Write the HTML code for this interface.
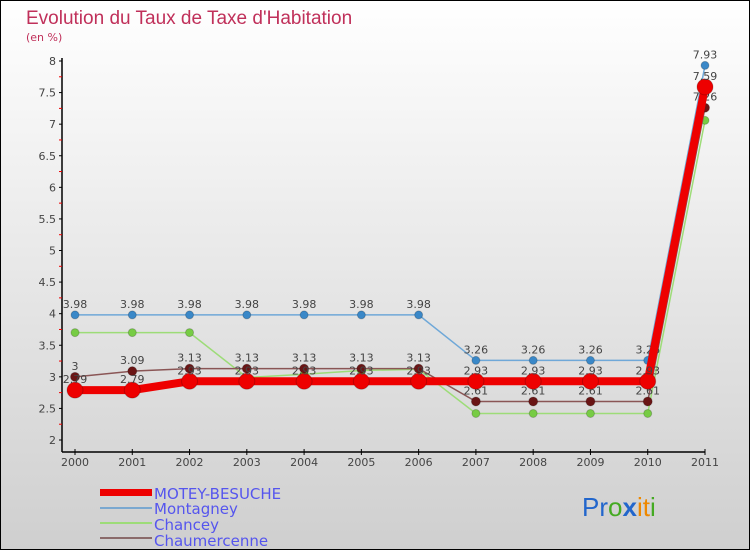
<!DOCTYPE html>
<html><head><meta charset="utf-8"><style>
body{margin:0}
#c{width:750px;height:550px;position:relative;overflow:hidden}
svg text{font-family:"DejaVu Sans","Liberation Sans",sans-serif}
</style></head><body>
<div id="c">
<svg id="s" width="750" height="550" xmlns="http://www.w3.org/2000/svg">
<defs><linearGradient id="bg" x1="0" y1="0" x2="0" y2="1"><stop offset="0" stop-color="#ffffff"/><stop offset="1" stop-color="#cfcfcf"/></linearGradient></defs>
<rect x="0.5" y="0.5" width="749" height="549" fill="url(#bg)" stroke="#000"/>
<text x="26" y="24" font-size="19" fill="#c0305a" style="font-family:'Liberation Sans',sans-serif;font-weight:300">Evolution du Taux de Taxe d'Habitation</text>
<text x="26" y="41" font-size="11" fill="#c0305a">(en %)</text>
<g id="axes"></g><g id="series"></g>
<g>
<rect x="100" y="489" width="52" height="7" fill="#ee0000"/>
<text x="154" y="499" font-size="15" fill="#5555ee">MOTEY-BESUCHE</text>
<line x1="100" y1="508" x2="152" y2="508" stroke="#7aa8d0" stroke-width="2"/>
<text x="154" y="514" font-size="15" fill="#5555ee">Montagney</text>
<line x1="100" y1="523" x2="152" y2="523" stroke="#9ddc78" stroke-width="2"/>
<text x="154" y="530" font-size="15" fill="#5555ee">Chancey</text>
<line x1="100" y1="538" x2="152" y2="538" stroke="#8a6a6a" stroke-width="2"/>
<text x="154" y="546" font-size="15" fill="#5555ee">Chaumercenne</text>
</g>
<text x="582" y="516" font-size="26" style="font-family:'Liberation Sans',sans-serif"><tspan fill="#2266cc">Pr</tspan><tspan fill="#44aa22">o</tspan><tspan fill="#2266cc" font-weight="bold">x</tspan><tspan fill="#ee8800">it</tspan><tspan fill="#44aa22">i</tspan></text>
</svg></div>
<script>
const years=[2000,2001,2002,2003,2004,2005,2006,2007,2008,2009,2010,2011];
const yTicks=[2,2.5,3,3.5,4,4.5,5,5.5,6,6.5,7,7.5,8];
const motey=[2.79,2.79,2.93,2.93,2.93,2.93,2.93,2.93,2.93,2.93,2.93,7.59];
const montagney=[3.98,3.98,3.98,3.98,3.98,3.98,3.98,3.26,3.26,3.26,3.26,7.93];
const chancey=[3.7,3.7,3.7,2.99,3.04,3.1,3.12,2.42,2.42,2.42,2.42,7.06];
const chaumercenne=[3,3.09,3.13,3.13,3.13,3.13,3.13,2.61,2.61,2.61,2.61,7.26];
const NS="http://www.w3.org/2000/svg";
const X=i=>75+i*(630/11);
const Y=v=>440-(v-2)*(379/6);
function mk(t,a,p){const e=document.createElementNS(NS,t);for(const k in a)e.setAttribute(k,a[k]);p.appendChild(e);return e;}
const ax=document.getElementById('axes');
const yl=mk('line',{x1:62,y1:58,x2:62,y2:452,stroke:'#000','stroke-width':1.5},ax);


const xl=mk('line',{x1:62,y1:452,x2:705,y2:452,stroke:'#000','stroke-width':1.5},ax);


yTicks.forEach((v,i)=>{
  mk('line',{x1:59,y1:Y(v),x2:62,y2:Y(v),stroke:'#000'},ax);
  if(i<yTicks.length-1) mk('line',{x1:59,y1:Y(v+0.25),x2:62,y2:Y(v+0.25),stroke:'#e00'},ax);
  const t=mk('text',{x:56,y:Y(v)+4,'font-size':11,fill:'#444','text-anchor':'end'},ax);
  t.textContent=String(v);
  
  
});
years.forEach((yr,i)=>{
  mk('line',{x1:X(i),y1:449,x2:X(i),y2:455,stroke:'#000'},ax);
  const t=mk('text',{x:X(i),y:466,'font-size':11,fill:'#444','text-anchor':'middle'},ax);
  t.textContent=String(yr);
  
  
});
const sg=document.getElementById('series');
function series(vals,name,color,dot,w,r,labels){
  const g=mk('g',{},sg);
  
  
  const pl=mk('polyline',{points:vals.map((v,i)=>X(i)+','+Y(v)).join(' '),fill:'none',stroke:color,'stroke-width':w},g);
  
  
  vals.forEach((v,i)=>{
    const c=mk('circle',{cx:X(i),cy:Y(v),r:r,fill:dot,stroke:'rgba(0,0,0,0.2)'},g);
    
    
    if(labels){const t=mk('text',{x:X(i),y:Y(v)-7,'font-size':11,fill:'#444','text-anchor':'middle'},g);
    t.textContent=String(v);
    
    }
  });
}
series(chancey,'chancey','#9ddc78','#77cc44',1.5,4,false);
series(chaumercenne,'chaumercenne','#8a5555','#6a1515',1.5,4.5,true);
series(montagney,'montagney','#6fa8d8','#3a88c8',1.5,4,true);
series(motey,'motey','#ee0000','#ee0000',8,8,true);
</script>
</body></html>
